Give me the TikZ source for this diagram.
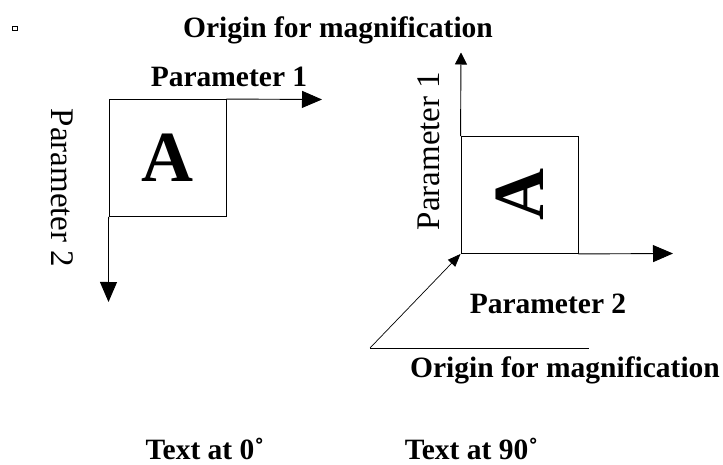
\documentclass[tikz,border=0pt]{standalone}
\usepackage{fontspec}
\setmainfont{Liberation Serif}
\usetikzlibrary{arrows.meta}
\begin{document}
\begin{tikzpicture}[x=1pt,y=1pt,
  lbl/.style={font=\fontsize{29.5}{32}\selectfont\bfseries, inner sep=0pt},
  rlbl/.style={font=\fontsize{33}{36}\selectfont, inner sep=0pt},
  sqbox/.style={draw, line width=0.9pt, minimum size=117pt, inner sep=0pt,
    font=\fontsize{72}{74}\selectfont\bfseries},
  axis/.style={line width=0.9pt, -{Triangle[length=20pt,width=17pt]}},
  smallaxis/.style={line width=0.9pt, -{Triangle[length=12pt,width=12pt]}},
  pointer/.style={line width=0.7pt, -{Triangle[length=13pt,width=10pt]}}]
\useasboundingbox (0,0) rectangle (723,-465);
% tiny marker
\node[draw, line width=0.6pt, minimum size=4.5pt, inner sep=0pt] (mark) at (15,-28.5) {};
% top title
\node[lbl, anchor=base] (title1) at (338,-38) {Origin for magnification};
% left: text at 0
\node[sqbox] (boxL) at (167.5,-158) {A};
\coordinate (p1end) at (322,-99.5);
\coordinate (p2end) at (108.5,-302);
\draw[axis] (boxL.north east) -- (p1end);
\draw[axis] (boxL.south west) -- (p2end);
\node[lbl, anchor=base] (p1L) at (229,-87) {Parameter 1};
\node[rlbl, rotate=-90] (p2L) at (62.5,-188) {Parameter 2};
% right: text at 90
\node[sqbox] (boxR) at (519.5,-195) {\rotatebox{90}{A}};
\coordinate (p1Rend) at (461,-52.5);
\coordinate (p2Rend) at (673,-253.5);
\draw[smallaxis] (boxR.north west) -- (p1Rend);
\draw[axis] (boxR.south east) -- (p2Rend);
\node[rlbl, rotate=90] (p1R) at (429,-151) {Parameter 1};
\node[lbl, anchor=base] (p2R) at (548,-313) {Parameter 2};
% origin pointer
\coordinate (oc) at (370,-348);
\coordinate (oe) at (589,-348);
\draw[pointer] (oc) -- (boxR.south west);
\draw[line width=0.7pt] (oc) -- (oe);
\node[lbl, anchor=base] (title2) at (565,-377) {Origin for magnification};
% captions
\node[lbl, anchor=base] (cap0) at (205,-459) {Text at 0˚};
\node[lbl, anchor=base] (cap90) at (471.5,-459) {Text at 90˚};
\end{tikzpicture}
\end{document}
